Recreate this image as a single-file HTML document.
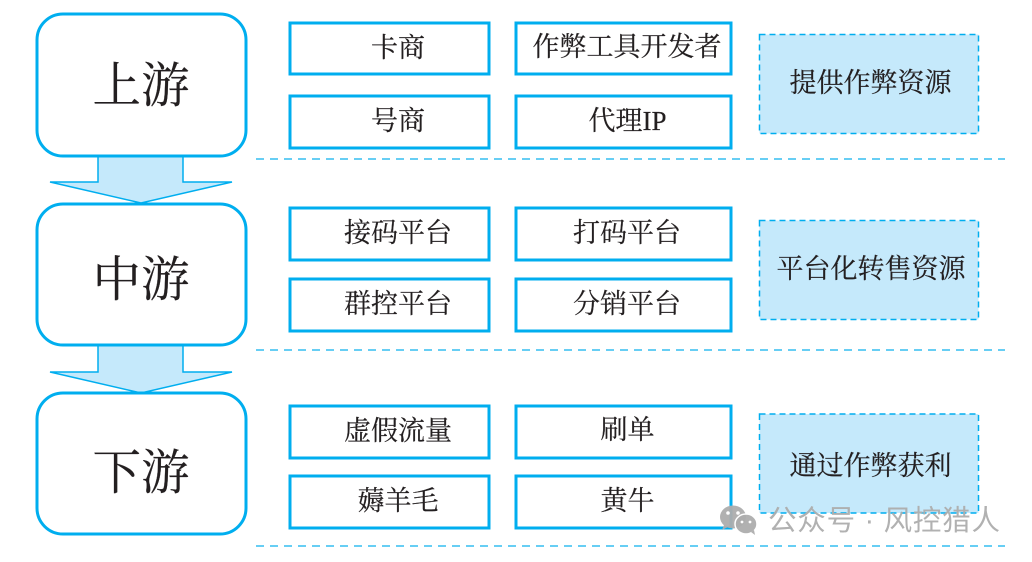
<!DOCTYPE html>
<html><head><meta charset="utf-8"><style>
html,body{margin:0;padding:0;background:#fff}
svg{display:block}
text{font-family:"Liberation Serif","Noto Serif CJK SC",serif;fill:#231f20;text-anchor:middle;stroke:#231f20;stroke-width:.2px}
.b{fill:#fff;stroke:#00aeef;stroke-width:3}
.r{fill:#c5e9fb;stroke:#00aeef;stroke-width:1.5;stroke-dasharray:6 4}
.d{stroke:#35bdf0;stroke-width:1.5;stroke-dasharray:8 6;fill:none}
.a{fill:#c5e9fb;stroke:#00aeef;stroke-width:1.5}
.t{font-size:27px}
.big{font-size:48.5px}
</style></head><body>
<svg width="1032" height="562" viewBox="0 0 1032 562" xmlns="http://www.w3.org/2000/svg">
<path class="a" d="M98 155V182H50L141 203L232 182H183V155Z"/>
<path class="a" d="M98 345V372H50L141 393L232 372H183V345Z"/>
<rect class="b" x="37" y="14" width="209" height="142" rx="26"/>
<rect class="b" x="37" y="204" width="209" height="141" rx="26"/>
<rect class="b" x="37" y="393" width="209" height="141" rx="26"/>
<text class="big" x="141" y="102">上游</text>
<text class="big" x="141" y="296">中游</text>
<text class="big" x="141" y="489">下游</text>

<rect class="b" x="290" y="23" width="199" height="51"/>
<rect class="b" x="516" y="23" width="215" height="51"/>
<rect class="b" x="290" y="96" width="199" height="52"/>
<rect class="b" x="516" y="96" width="215" height="52"/>
<text class="t" x="398" y="57">卡商</text>
<text class="t" x="627" y="56">作弊工具开发者</text>
<text class="t" x="398" y="130">号商</text>
<text class="t" x="627.500" y="130">代理IP</text>

<rect class="b" x="290" y="208" width="199" height="52"/>
<rect class="b" x="516" y="208" width="215" height="52"/>
<rect class="b" x="290" y="279" width="199" height="52"/>
<rect class="b" x="516" y="279" width="215" height="52"/>
<text class="t" x="398" y="242">接码平台</text>
<text class="t" x="627" y="242">打码平台</text>
<text class="t" x="398" y="313">群控平台</text>
<text class="t" x="627" y="313">分销平台</text>

<rect class="b" x="290" y="406" width="199" height="52"/>
<rect class="b" x="516" y="406" width="215" height="52"/>
<rect class="b" x="290" y="476" width="199" height="52"/>
<rect class="b" x="516" y="476" width="215" height="52"/>
<text class="t" x="398" y="440">虚假流量</text>
<text class="t" x="627.500" y="439">刷单</text>
<text class="t" x="398" y="510">薅羊毛</text>
<text class="t" x="627.500" y="510">黄牛</text>

<rect class="r" x="759.500" y="34.500" width="219" height="99"/>
<rect class="r" x="759.500" y="220.500" width="219" height="99"/>
<rect class="r" x="759.500" y="414" width="219" height="99"/>
<text class="t" x="870.500" y="92">提供作弊资源</text>
<text class="t" x="871" y="278">平台化转售资源</text>
<text class="t" x="870.500" y="475">通过作弊获利</text>

<path class="d" d="M256 159H1005"/>
<path class="d" d="M256 350H1005"/>
<path class="d" d="M256 546H1005"/>

<g fill="#adadad" fill-opacity="0.95">
<ellipse cx="733" cy="517" rx="13" ry="11.500"/>
<path d="M724 525l-2 5 6-3z"/>
<ellipse cx="746" cy="524" rx="11" ry="10" stroke="#fff" stroke-width="1.500"/>
<path d="M751 532l4 3-1-5z"/>
</g>
<g fill="#fff"><circle cx="728" cy="513" r="1.800"/><circle cx="738" cy="513" r="1.800"/><circle cx="742" cy="522" r="1.400"/><circle cx="750" cy="522" r="1.400"/></g>
<text x="768" y="530" textLength="232" lengthAdjust="spacing" style="font-family:'Liberation Sans','Noto Sans CJK SC',sans-serif;font-size:28.5px;fill:#adadad;stroke:none;opacity:.95;text-anchor:start">公众号 · 风控猎人</text>
</svg>
</body></html>
